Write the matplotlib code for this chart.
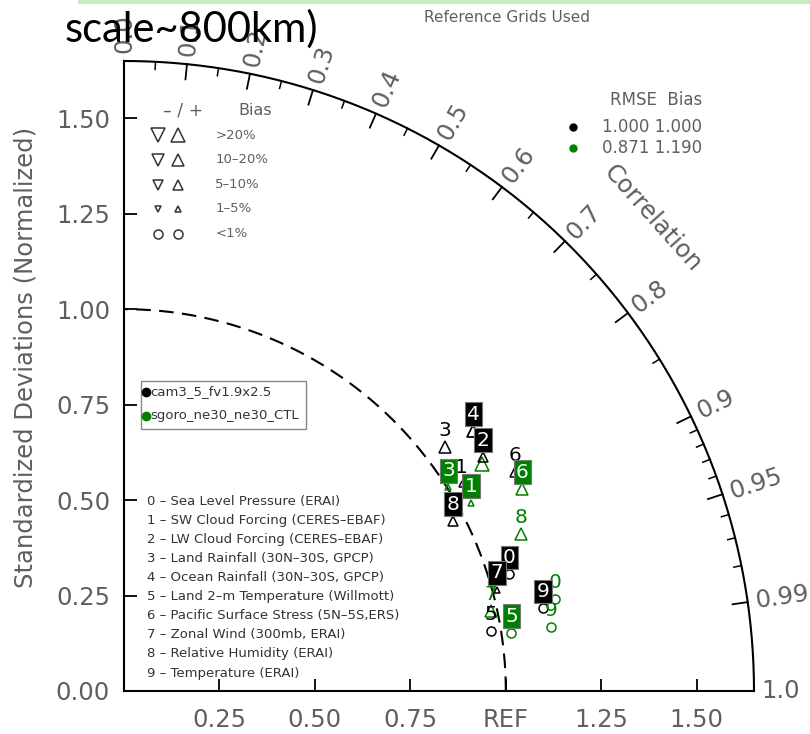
import numpy as np
import matplotlib.pyplot as plt
from matplotlib.patches import Rectangle
from matplotlib.lines import Line2D

# variables shown on the diagram
variables = ["Sea Level Pressure (ERAI)", "SW Cloud Forcing (CERES\u2013EBAF)",
             "LW Cloud Forcing (CERES\u2013EBAF)", "Land Rainfall (30N\u201330S, GPCP)",
             "Ocean Rainfall (30N\u201330S, GPCP)", "Land 2\u2013m Temperature (Willmott)",
             "Pacific Surface Stress (5N\u20135S,ERS)", "Zonal Wind (300mb, ERAI)",
             "Relative Humidity (ERAI)", "Temperature (ERAI)"]

cases = ["cam3_5_fv1.9x2.5", "sgoro_ne30_ne30_CTL"]
case_colors = ["black", "#008000"]
rmse_score = ["1.000", "0.871"]
bias_score = ["1.000", "1.190"]

# normalized std and correlation
std_cam = [1.055, 1.037, 1.123, 1.056, 1.141, 0.974, 1.174, 1.012, 0.970, 1.118]
corr_cam = [0.957, 0.853, 0.838, 0.796, 0.802, 0.987, 0.873, 0.965, 0.888, 0.981]
std_ne30 = [1.155, 1.034, 1.110, 1.003, 1.141, 1.026, 1.170, 0.983, 1.118, 1.131]
corr_ne30 = [0.978, 0.879, 0.844, 0.847, 0.802, 0.989, 0.892, 0.977, 0.930, 0.989]

# bias class: 0 <1%, 1 1-5%, 2 5-10%, 3 10-20%, 4 >20% (sign = +/-)
bias_cam = [0, 1, 2, 3, 3, 0, 2, 1, 2, 0]
bias_ne30 = [0, 1, 4, 1, 3, 0, 3, 3, 3, 0]

# boxed label = best case for that variable
boxed_cam = [1, 0, 1, 0, 1, 0, 0, 1, 1, 1]

bias_classes = ["<1%", "1\u20135%", "5\u201310%", "10\u201320%", ">20%"]
bias_sizes = [6.5, 5, 6.5, 8, 9.5]

corr_major = [0.1, 0.2, 0.3, 0.4, 0.5, 0.6, 0.7, 0.8, 0.9, 0.95, 0.99]
corr_minor = [0.05, 0.15, 0.25, 0.35, 0.45, 0.55, 0.65, 0.75, 0.85,
              0.91, 0.92, 0.93, 0.94, 0.96, 0.97, 0.98]

grey = "#5f5f5f"
rmax = 1.65

fig = plt.figure(figsize=(8.1, 7.34), dpi=100)
ax = fig.add_axes([124/810, 43/734, 630/810, 630/734])
ax.set_xlim(0, rmax)
ax.set_ylim(0, rmax)
ax.spines['top'].set_visible(False)
ax.spines['right'].set_visible(False)
ax.spines['left'].set_linewidth(1.5)
ax.spines['bottom'].set_linewidth(1.5)

ax.set_xticks([0.25, 0.5, 0.75, 1.0, 1.25, 1.5])
ax.set_xticklabels(["0.25", "0.50", "0.75", "REF", "1.25", "1.50"])
ax.set_yticks([0, 0.25, 0.5, 0.75, 1.0, 1.25, 1.5])
ax.set_yticklabels(["0.00", "0.25", "0.50", "0.75", "1.00", "1.25", "1.50"])
ax.tick_params(direction='in', length=9, width=1.3, labelsize=17.5, labelcolor=grey)
ax.tick_params(axis='x', pad=12)
ax.tick_params(axis='y', pad=10)

# outer arc and reference arc
th = np.linspace(0, np.pi/2, 300)
ax.plot(rmax*np.cos(th), rmax*np.sin(th), color='black', lw=1.5, clip_on=False)
ax.plot(np.cos(th), np.sin(th), color='black', lw=1.5, ls=(0, (7, 4)))

# correlation ticks
for c in corr_major:
    t = np.arccos(c)
    ax.plot([rmax*np.cos(t), (rmax-0.04)*np.cos(t)], [rmax*np.sin(t), (rmax-0.04)*np.sin(t)],
            color='black', lw=1.3, clip_on=False)
    ax.text((rmax+0.02)*np.cos(t), (rmax+0.02)*np.sin(t), "%g" % c, rotation=np.degrees(t),
            rotation_mode='anchor', ha='left', va='center', fontsize=17.5, color=grey)
for c in corr_minor:
    t = np.arccos(c)
    ax.plot([rmax*np.cos(t), (rmax-0.02)*np.cos(t)], [rmax*np.sin(t), (rmax-0.02)*np.sin(t)],
            color='black', lw=1.1, clip_on=False)
for c, lab in [(0.0, "0.0"), (1.0, "1.0")]:
    t = np.arccos(c)
    ax.text((rmax+0.02)*np.cos(t), (rmax+0.02)*np.sin(t), lab, rotation=np.degrees(t),
            rotation_mode='anchor', ha='left', va='center', fontsize=17.5, color=grey)
ta = np.radians(41.8)
ax.text(1.858*np.cos(ta), 1.858*np.sin(ta), "Correlation", rotation=-48.2,
        ha='center', va='center', fontsize=17.5, color=grey)

fig.text(26/810, 1-357/734, "Standardized Deviations (Normalized)", rotation=90,
         ha='center', va='center', fontsize=17.5, color=grey)

# data points
stds = [std_cam, std_ne30]
corrs = [corr_cam, corr_ne30]
biases = [bias_cam, bias_ne30]
boxed = [boxed_cam, [1 - b for b in boxed_cam]]
labels_later = []
for k in [1, 0]:
    col = case_colors[k]
    s = np.array(stds[k])
    t = np.arccos(np.array(corrs[k]))
    xs, ys = s*np.cos(t), s*np.sin(t)
    for i in range(len(variables)):
        b = biases[k][i]
        mk = 'o' if b == 0 else ('^' if b > 0 else 'v')
        ax.plot(xs[i], ys[i], marker=mk, ms=bias_sizes[abs(b)], mfc='none', mec=col, mew=1.1)
        if boxed[k][i]:
            labels_later.append((xs[i], ys[i], str(i), col))
        else:
            ax.annotate(str(i), (xs[i], ys[i]), xytext=(0, 12), textcoords='offset points',
                        ha='center', va='center', fontsize=14.5, color=col)
for x, y, lab, col in labels_later:
    ax.annotate(lab, (x, y), xytext=(0, 12), textcoords='offset points',
                ha='center', va='center', fontsize=14.5, color='white',
                bbox=dict(boxstyle='square,pad=0.12', fc=col, ec='#777777', lw=0.8))

# bias legend
ax.text(0.155, 1.521, "\u2013 / +", ha='center', va='center', fontsize=12.5, color=grey)
ax.text(0.30, 1.521, "Bias", ha='left', va='center', fontsize=11.5, color=grey)
leg_y = [1.197, 1.263, 1.326, 1.392, 1.455]
for j in range(len(bias_classes)):
    if j == 0:
        m1, m2 = 'o', 'o'
    else:
        m1, m2 = 'v', '^'
    ax.plot(0.0895, leg_y[j], marker=m1, ms=bias_sizes[j], mfc='none', mec='#333333', mew=1.1)
    ax.plot(0.142, leg_y[j], marker=m2, ms=bias_sizes[j], mfc='none', mec='#333333', mew=1.1)
    ax.text(0.239, leg_y[j], bias_classes[j], ha='left', va='center', fontsize=9.5, color=grey)

# rmse / bias score legend
ax.text(1.274, 1.547, "RMSE  Bias", ha='left', va='center', fontsize=12, color=grey)
for k in range(2):
    yy = 1.476 - 0.055*k
    ax.plot(1.176, yy, 'o', ms=5, color=case_colors[k])
    ax.text(1.253, yy, rmse_score[k] + " " + bias_score[k], ha='left', va='center',
            fontsize=12, color=grey)

# case legend
ax.add_patch(Rectangle((0.0447, 0.687), 0.4316, 0.126, fill=False, ec='#888888', lw=1))
for k in range(2):
    yy = 0.784 - 0.063*k
    ax.plot(0.058, yy, 'o', ms=6, color=case_colors[k], clip_on=False)
    ax.text(0.0684, yy, cases[k], ha='left', va='center', fontsize=9.5, color='#333333')

# variable list
for i, v in enumerate(variables):
    ax.text(0.0605, 0.497 - 0.05*i, "%d \u2013 %s" % (i, v), ha='left', va='center',
            fontsize=9.5, color='#333333')

# slide leftovers at the top
fig.text(424/810, 1-18/734, "Reference Grids Used", ha='left', va='center', fontsize=11, color=grey)
fig.text(65/810, 1-42/734, "scale~800km)", ha='left', va='baseline', fontsize=30,
         family='Lato', color='black')
fig.add_artist(Line2D([80/810, 1], [1-1.5/734, 1-1.5/734], color='#c6efbf', lw=3))

fig.savefig("out.png", dpi=100)
